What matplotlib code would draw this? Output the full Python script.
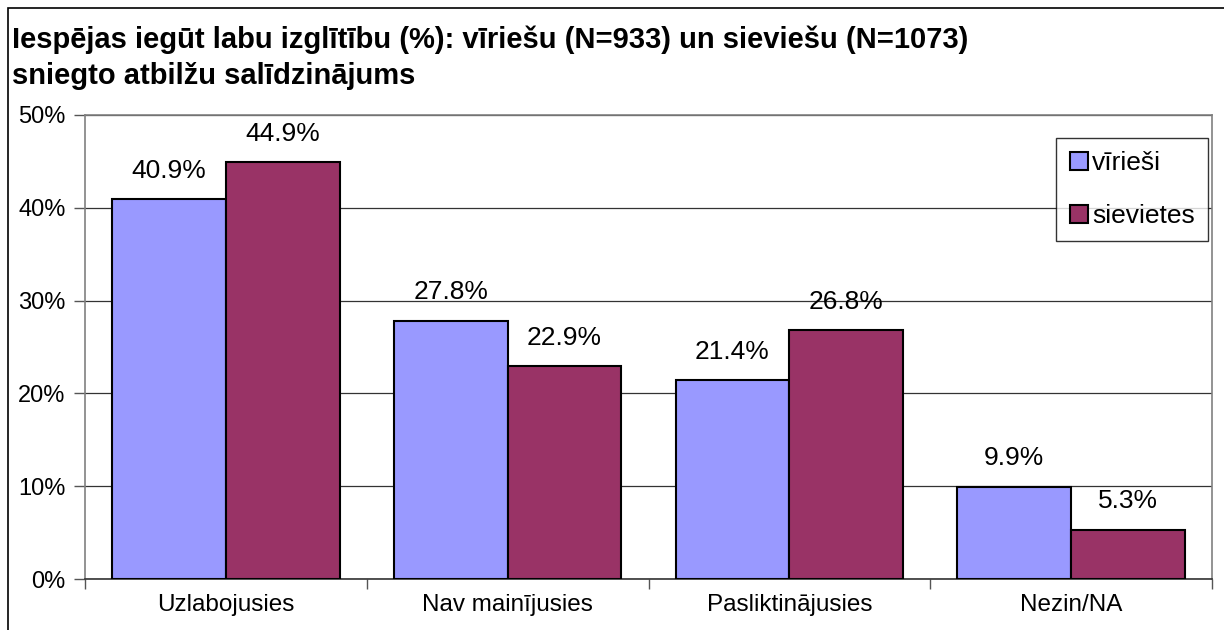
import numpy as np
import matplotlib.pyplot as plt
from matplotlib.patches import Rectangle
from matplotlib.ticker import FixedLocator, NullFormatter

plt.rcParams['font.family'] = ['Liberation Sans', 'DejaVu Sans']

categories = ['Uzlabojusies', 'Nav mainījusies', 'Pasliktinājusies', 'Nezin/NA']
men = [40.9, 27.8, 21.4, 9.9]
women = [44.9, 22.9, 26.8, 5.3]
series_names = ['vīrieši', 'sievietes']
colors = ['#9999FF', '#993366']
title = ('Iespējas iegūt labu izglītību (%): vīriešu (N=933) un sieviešu (N=1073)\n'
         'sniegto atbilžu salīdzinājums')

fig = plt.figure(figsize=(12.24, 6.3), dpi=100)
ax = fig.add_axes([85 / 1224, 1 - 579 / 630, (1212 - 85) / 1224, (579 - 115) / 630])

# outer frame of the chart
fig.patches.append(Rectangle((8 / 1224, -0.1), 1.1, 1 - 8 / 630 + 0.1,
                             transform=fig.transFigure, fill=False,
                             edgecolor='black', linewidth=1.2))

x = np.arange(len(categories))
w = 0.404
b1 = ax.bar(x - w / 2, men, w, color=colors[0], edgecolor='black', linewidth=1.5,
            label=series_names[0], zorder=3)
b2 = ax.bar(x + w / 2, women, w, color=colors[1], edgecolor='black', linewidth=1.5,
            label=series_names[1], zorder=3)

for bars, vals in ((b1, men), (b2, women)):
    for rect, v in zip(bars, vals):
        ax.annotate(f'{v:.1f}%', (rect.get_x() + rect.get_width() / 2, v),
                    xytext=(0, 12), textcoords='offset points',
                    ha='center', va='bottom', fontsize=19)

ax.set_xlim(-0.5, len(categories) - 0.5)
ax.set_ylim(0, 50)
ax.set_yticks(np.arange(0, 51, 10))
ax.set_yticklabels([f'{v}%' for v in range(0, 51, 10)], fontsize=17)
ax.yaxis.grid(True, color='#333333', linewidth=0.9, zorder=0)

ax.set_xticks(x)
ax.set_xticklabels(categories, fontsize=17.5)
ax.tick_params(axis='x', which='major', length=0, pad=11)
ax.xaxis.set_minor_locator(FixedLocator(np.arange(-0.5, len(categories), 1)))
ax.xaxis.set_minor_formatter(NullFormatter())
ax.tick_params(axis='x', which='minor', length=7, color='#555555', width=1)
ax.tick_params(axis='y', length=8, color='#555555', width=1, pad=6)

for side in ('top', 'left', 'right'):
    ax.spines[side].set_color('#808080')
    ax.spines[side].set_linewidth(1.2)
ax.spines['bottom'].set_color('#333333')
ax.spines['bottom'].set_linewidth(1.2)

fig.text(12 / 1224, 1 - 25 / 630, title, fontsize=21, fontweight='bold',
         ha='left', va='top', linespacing=1.38)

leg = ax.legend(loc='upper right', bbox_to_anchor=(1208 / 1224, 1 - 138 / 630),
                bbox_transform=fig.transFigure, fontsize=19, frameon=True,
                fancybox=False, shadow=False, edgecolor='black',
                handlelength=0.7, handleheight=0.7, handletextpad=0.15,
                labelspacing=1.1, borderpad=0.5, borderaxespad=0)
leg.get_frame().set_linewidth(1.0)
for h in leg.legend_handles:
    h.set_edgecolor('black')
    h.set_linewidth(1.5)

fig.savefig('out.png', dpi=100)
